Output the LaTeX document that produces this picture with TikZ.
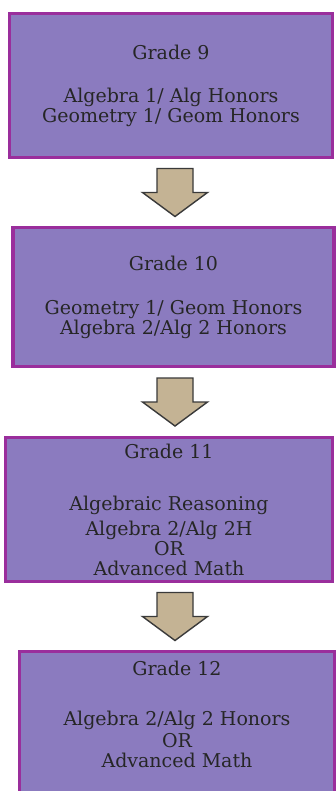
\documentclass[tikz,border=0pt]{standalone}
\usepackage{fontspec}
\setmainfont{DejaVu Serif}
\usepackage{tikz}
\usepackage{xcolor}
\usetikzlibrary{calc,positioning}
\definecolor{BoxFill}{HTML}{8B7BBF}
\definecolor{BoxEdge}{HTML}{9A2E9C}
\definecolor{ArrowTan}{HTML}{C4B394}
\definecolor{ArrowEdge}{HTML}{3A3A3A}
\definecolor{TextGray}{HTML}{262626}

\begin{document}
\begin{tikzpicture}[
      x=1pt,y=-1pt,
      font=\fontsize{19}{20}\selectfont,
      gradebox/.style={draw=BoxEdge,fill=BoxFill,line width=3.2pt,inner sep=0pt,align=center,text=TextGray},
      arrowbody/.style={draw=ArrowEdge,fill=ArrowTan,line width=1.4pt,line join=miter},
      gradearrow/.pic={
        \draw[arrowbody] (-18,-24) -- (18,-24) -- (18,0) -- (32.5,0) -- (0,24) -- (-32.5,0) -- (-18,0) -- cycle;
      }
    ]
      \useasboundingbox[fill=white] (0,0) rectangle (335,791);

      \node[gradebox,minimum width=323,minimum height=144] (g9) at (171,85.5)
        {Grade 9\\[23pt]Algebra 1/ Alg Honors\\Geometry 1/ Geom Honors};
      \node[gradebox,minimum width=321,minimum height=139] (g10) at (173.5,297)
        {Grade 10\\[24pt]Geometry 1/ Geom Honors\\Algebra 2/Alg 2 Honors};
      \node[gradebox,minimum width=327,minimum height=144] (g11) at (169,509.5)
        {Grade 11\\[32pt]Algebraic Reasoning\\[5pt]Algebra 2/Alg 2H\\OR\\Advanced Math};
      \node[gradebox,minimum width=315,minimum height=160] (g12) at (177,731.5)
        {Grade 12\\[30pt]Algebra 2/Alg 2 Honors\\[2pt]OR\\Advanced Math\rule[-34pt]{0pt}{0pt}};

      % block arrows between the years
      \pic at ($(175,0 |- g9.south)!.5!(175,0 |- g10.north)$) {gradearrow};
      \pic at ($(175,0 |- g10.south)!.5!(175,0 |- g11.north)$) {gradearrow};
      \pic at ($(175,0 |- g11.south)!.5!(175,0 |- g12.north)$) {gradearrow};
    \end{tikzpicture}
\end{document}
